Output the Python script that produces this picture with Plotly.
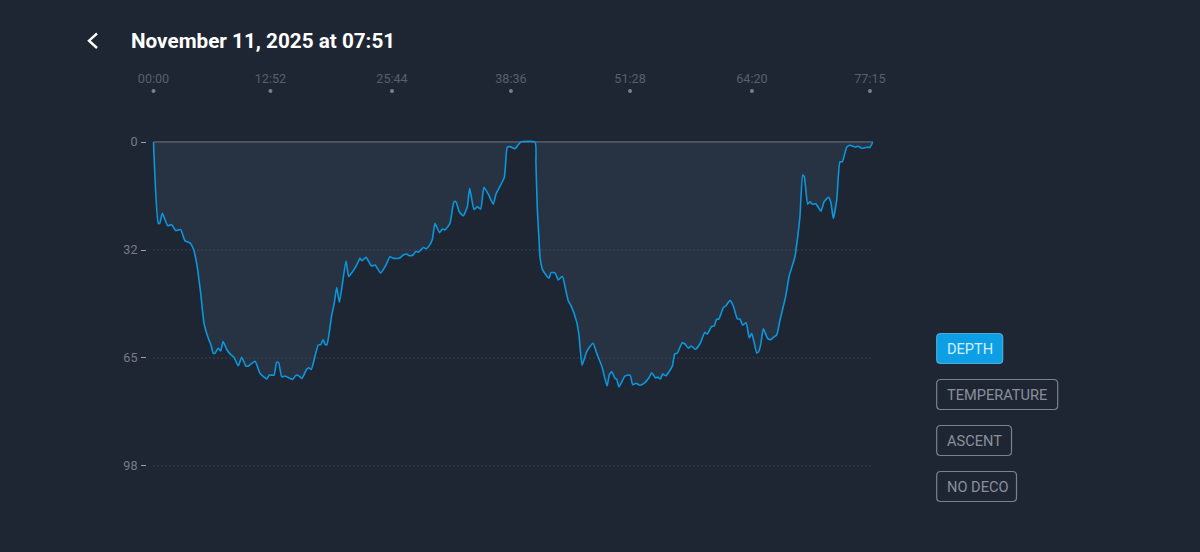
import plotly.graph_objects as go

# ---- data ----
elapsed_s = [0,31,40,57,91,117,143,175,203,235,256,278,304,325,353,370,385,396,417,433,448,471,493,518,546,568,594,610,654,686,729,746,776,793,806,826,847,896,916,932,956,987,1001,1016,1061,1077,1092,1106,1117,1148,1164,1180,1197,1240,1257,1283,1309,1330,1343,1369,1403,1427,1463,1497,1523,1544,1583,1609,1631,1647,1673,1690,1708,1738,1755,1774,1795,1813,1841,1862,1877,1909,1935,1948,1969,1995,2021,2036,2064,2085,2107,2128,2156,2188,2206,2259,2278,2296,2328,2365,2457,2463,2472,2483,2489,2506,2547,2560,2586,2607,2633,2655,2671,2689,2725,2740,2760,2790,2830,2854,2888,2921,2935,2951,2972,2983,2998,3036,3069,3086,3107,3133,3159,3191,3208,3234,3247,3264,3279,3300,3341,3357,3373,3404,3423,3444,3463,3489,3519,3550,3566,3592,3612,3627,3640,3670,3685,3713,3734,3760,3777,3794,3816,3837,3852,3867,3885,3897,3912,3927,3955,3975,3992,4013,4035,4073,4093,4131,4146,4163,4181,4191,4213,4228,4243,4265,4299,4318,4348,4363,4378,4400,4421,4436,4464,4485,4518,4539,4561,4593,4614,4632]
depth = [0,24.6,24.6,21.6,25.3,25.0,26.8,26.5,29.9,30.5,32.2,36.7,45.8,54.8,59.4,61.4,63.9,63.9,62.4,63.2,60.4,62.7,64.1,65.1,67.7,65.1,67.7,67.8,66.3,70.0,71.7,70.5,70.5,66.6,66.8,71.0,70.8,71.8,70.6,70.6,71.5,68.7,68.3,68.8,61.4,61.3,59.8,61.3,61.3,52.3,48.8,44.0,48.5,36.0,40.7,39.2,37.2,35.2,35.9,34.9,37.5,37.2,39.6,37.2,34.7,35.2,35.2,34.2,33.9,34.4,34.1,33.1,33.3,31.9,32.3,31.5,29.6,24.6,27.4,26.3,26.6,24.6,18.1,18.1,21.1,22.3,19.6,14.0,20.4,19.6,20.3,13.7,15.8,18.8,15.7,10.7,1.6,1.4,2.0,0,0,6.4,20.6,29.6,34.7,38.7,41.2,39.5,39.6,41.7,40.6,44.8,48.0,49.5,54.4,58.4,67.5,63.4,60.9,63.9,68.0,73.8,70.5,69.5,71.5,71.8,74.1,70.8,70.5,73.4,73.0,73.6,73.0,71.3,69.8,71.4,71.1,71.7,70.2,70.7,67.8,64.1,63.9,60.8,61.1,62.4,61.7,62.7,61.1,57.6,58.1,55.9,55.6,53.6,53.6,50.1,49.6,47.9,49.6,53.5,53.6,55.4,54.7,59.3,57.9,60.4,63.8,63.4,60.9,56.5,59.4,59.8,59.1,58.4,53.8,46.3,40.7,34.7,29.6,22.6,10.0,10.5,18.8,18.1,18.8,18.7,20.9,18.1,16.7,18.5,23.1,17.5,6.0,6.0,1.6,1.0,1.5,1.3,1.9,1.6,1.6,0]

x_tick_pos = [0,753,1536,2302,3069,3854,4614]
x_tick_labels = ["00:00","12:52","25:44","38:36","51:28","64:20","77:15"]
y_tick_pos = [0,32.67,65.33,98]
y_tick_labels = ["0","32","65","98"]
buttons = ["DEPTH","TEMPERATURE","ASCENT","NO DECO"]
title_text = "November 11, 2025 at 07:51"

# ---- layout constants (pixels) ----
W,H = 1200,552
L,R,T,B = 147,880,88,500
BG = "#1f2633"
FONT = "Roboto"
def px(x): return (x-L)/(R-L)
def py(y): return (B-y)/(B-T)
S_PER_PX = 6.44
DEPTH_PER_PX = 0.3025
x0_px, y0_px = 153.5, 142
DOT_LEVEL = (91-y0_px)*DEPTH_PER_PX

def round_rect(x0,y0,x1,y1,r=4):
    p = lambda a,b: f"{px(a):.5f},{py(b):.5f}"
    return (f"M{p(x0+r,y0)} L{p(x1-r,y0)} Q{p(x1,y0)} {p(x1,y0+r)} L{p(x1,y1-r)} Q{p(x1,y1)} {p(x1-r,y1)} "
            f"L{p(x0+r,y1)} Q{p(x0,y1)} {p(x0,y1-r)} L{p(x0,y0+r)} Q{p(x0,y0)} {p(x0+r,y0)} Z")

fig = go.Figure()
# grid levels
for i,lv in enumerate(y_tick_pos):
    fig.add_trace(go.Scatter(x=[elapsed_s[0],elapsed_s[-1]],y=[lv,lv],mode="lines",hoverinfo="skip",showlegend=False,
        line=dict(color="#7c8490" if i==0 else "#565e6b",width=1.2 if i==0 else 1,dash="solid" if i==0 else "1px 3px")))
fig.add_trace(go.Scatter(x=elapsed_s,y=depth,mode="lines",fill="tozeroy",fillcolor="rgba(56,74,97,0.36)",
    line=dict(color="#0b97dd",width=1.6,shape="spline",smoothing=0.5),showlegend=False))
fig.add_trace(go.Scatter(x=x_tick_pos,y=[DOT_LEVEL]*len(x_tick_pos),mode="markers",hoverinfo="skip",showlegend=False,
    marker=dict(size=4,color="#7a808b")))

shapes = [dict(type="path",xref="paper",yref="paper",
    path=f"M{px(97):.5f},{py(33.5):.5f} L{px(89):.5f},{py(40.7):.5f} L{px(97):.5f},{py(48):.5f}",
    line=dict(color="#ffffff",width=2.4))]
annots = [dict(text=f"<b>{title_text}</b>",xref="paper",yref="paper",x=px(129),y=py(41),xanchor="left",yanchor="middle",
    showarrow=False,font=dict(family=FONT,size=20.7,color="#ffffff"))]
rects = [(936.7,333.5,1002.7,363.5),(936.7,379.5,1057.7,409.5),(936.7,425.5,1011.5,455.5),(936.7,471.5,1016.5,501.5)]
for i,(name,r) in enumerate(zip(buttons,rects)):
    on = i==0
    shapes.append(dict(type="path",xref="paper",yref="paper",path=round_rect(*r),
        fillcolor="#0d9fe6" if on else "rgba(0,0,0,0)",line=dict(color="#4fa9d6" if on else "#7b828e",width=1.2)))
    annots.append(dict(text=name,xref="paper",yref="paper",x=px(944.5),y=py((r[1]+r[3])/2),xanchor="left",yanchor="middle",
        showarrow=False,font=dict(family=FONT,size=14.6,color="#d5edfa" if on else "#8a909b")))

fig.update_layout(width=W,height=H,margin=dict(l=L,r=W-R,t=T,b=H-B,pad=0,autoexpand=False),
    paper_bgcolor=BG,plot_bgcolor=BG,font=dict(family=FONT),shapes=shapes,annotations=annots,hovermode=False,
    xaxis=dict(side="top",range=[(L-x0_px)*S_PER_PX,(R-x0_px)*S_PER_PX],tickmode="array",tickvals=x_tick_pos,ticktext=x_tick_labels,
        showgrid=False,zeroline=False,showline=False,ticks="",
        tickfont=dict(size=12.6,color="#585f6c"),ticklabelstandoff=1),
    yaxis=dict(range=[(B-y0_px)*DEPTH_PER_PX,(T-y0_px)*DEPTH_PER_PX],tickmode="array",tickvals=y_tick_pos,ticktext=y_tick_labels,
        showgrid=False,zeroline=False,showline=False,ticks="outside",ticklen=5,tickwidth=1,tickcolor="#9aa0aa",
        tickfont=dict(size=12.6,color="#757c88"),ticklabelstandoff=1))
fig.write_html("out.html",config={"displayModeBar":False},post_script="document.body.style.margin='0';document.body.style.background='#1f2633';document.documentElement.style.overflow='hidden';")
